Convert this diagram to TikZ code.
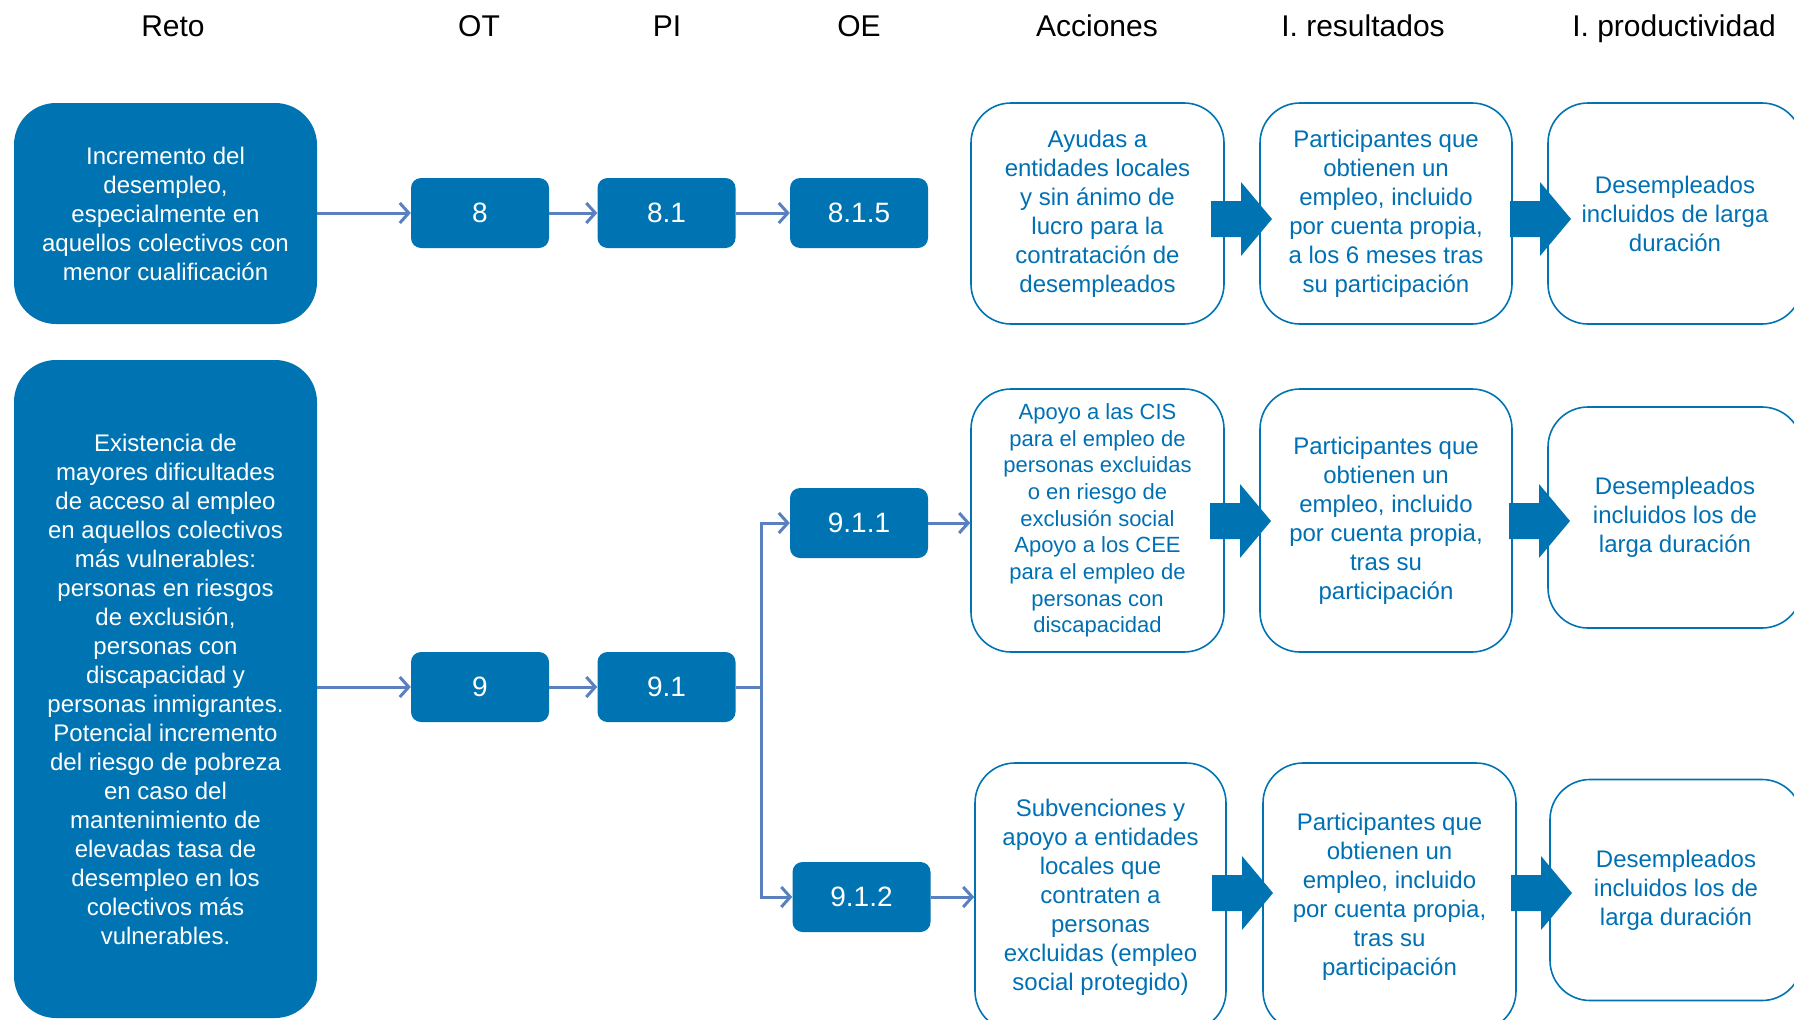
\documentclass[tikz,border=0pt]{standalone}
\usepackage{fontspec}
\setmainfont{Liberation Sans}
\usetikzlibrary{arrows.meta}
\definecolor{dkblue}{RGB}{0,116,178}
\definecolor{txtblue}{RGB}{0,112,180}
\definecolor{connc}{RGB}{90,128,192}
\begin{document}
\begin{tikzpicture}[x=1pt,y=-1pt,
 reto/.style={fill=dkblue, rounded corners=42pt, text=white, align=center, font=\fontsize{24}{29}\selectfont, inner sep=0pt, minimum width=303pt},
 num/.style={fill=dkblue, rounded corners=10pt, text=white, minimum width=138pt, minimum height=70pt, font=\fontsize{28}{32}\selectfont, inner sep=0pt},
 wbox/.style={draw=dkblue, line width=1.6pt, rounded corners=40pt, text=txtblue, align=center, font=\fontsize{24}{29}\selectfont, inner sep=0pt},
 hdr/.style={font=\fontsize{30}{34}\selectfont, text=black, anchor=base},
 link/.style={draw=connc, line width=3pt, -{Straight Barb[length=9pt,width=20pt]}},
 blockarrow/.pic={\fill[dkblue] (0,-18) -- (30,-18) -- (30,-37) -- (61,0) -- (30,37) -- (30,18) -- (0,18) -- cycle;}
]
\useasboundingbox (0,0) rectangle (1794,1020);
\clip (0,0) rectangle (1794,1020);

% headers
\node[hdr] (hReto) at (173,36) {Reto};
\node[hdr] (hOT) at (479,36) {OT};
\node[hdr] (hPI) at (667,36) {PI};
\node[hdr] (hOE) at (859,36) {OE};
\node[hdr] (hAcc) at (1097,36) {Acciones};
\node[hdr] (hRes) at (1363,36) {I. resultados};
\node[hdr] (hProd) at (1674,36) {I. productividad};

% reto boxes
\node[reto, minimum height=221pt] (reto1) at (165.5,213.5) {Incremento del\\desempleo,\\especialmente en\\aquellos colectivos con\\menor cualificación};
\node[reto, minimum height=658pt] (reto2) at (165.5,689) {Existencia de\\mayores dificultades\\de acceso al empleo\\en aquellos colectivos\\más vulnerables:\\personas en riesgos\\de exclusión,\\personas con\\discapacidad y\\personas inmigrantes.\\Potencial incremento\\del riesgo de pobreza\\en caso del\\mantenimiento de\\elevadas tasa de\\desempleo en los\\colectivos más\\vulnerables.};

% number boxes
\node[num] (n8) at (480,213) {8};
\node[num] (n81) at (666.5,213) {8.1};
\node[num] (n815) at (859,213) {8.1.5};
\node[num] (n9) at (480,687) {9};
\node[num] (n91) at (666.5,687) {9.1};
\node[num] (n911) at (859,523) {9.1.1};
\node[num] (n912) at (861.5,897) {9.1.2};

% block arrows (beneath the outlined boxes)
\pic at (1211,219) {blockarrow};
\pic at (1510,219) {blockarrow};
\pic at (1210,521) {blockarrow};
\pic at (1509,521) {blockarrow};
\pic at (1212,893) {blockarrow};
\pic at (1511,893) {blockarrow};

% outlined boxes
\node[wbox, minimum width=253pt, minimum height=221pt] (acc1) at (1097.5,213.5) {Ayudas a\\entidades locales\\y sin ánimo de\\lucro para la\\contratación de\\desempleados};
\node[wbox, minimum width=252pt, minimum height=221pt] (res1) at (1386,213.5) {Participantes que\\obtienen un\\empleo, incluido\\por cuenta propia,\\a los 6 meses tras\\su participación};
\node[wbox, minimum width=254pt, minimum height=221pt] (prod1) at (1675,213.5) {Desempleados\\incluidos de larga\\duración};

\node[wbox, minimum width=253pt, minimum height=263pt, font=\fontsize{22}{26.7}\selectfont] (acc2) at (1097.5,520.5) {Apoyo a las CIS\\para el empleo de\\personas excluidas\\o en riesgo de\\exclusión social\\Apoyo a los CEE\\para el empleo de\\personas con\\discapacidad};
\node[wbox, minimum width=252pt, minimum height=263pt] (res2) at (1386,520.5) {Participantes que\\obtienen un\\empleo, incluido\\por cuenta propia,\\tras su\\participación};
\node[wbox, minimum width=254pt, minimum height=221pt] (prod2) at (1675,517.5) {Desempleados\\incluidos los de\\larga duración};

\node[wbox, minimum width=251pt, minimum height=268pt] (acc3) at (1100.5,897) {Subvenciones y\\apoyo a entidades\\locales que\\contraten a\\personas\\excluidas (empleo\\social protegido)};
\node[wbox, minimum width=253pt, minimum height=268pt] (res3) at (1389.5,897) {Participantes que\\obtienen un\\empleo, incluido\\por cuenta propia,\\tras su\\participación};
\node[wbox, minimum width=252pt, minimum height=221pt] (prod3) at (1676,890) {Desempleados\\incluidos los de\\larga duración};

% connectors
\draw[link] (reto1.east |- n8.west) -- (n8.west);
\draw[link] (n8.east) -- (n81.west);
\draw[link] (n81.east) -- (n815.west);
\draw[link] (reto2.east |- n9.west) -- (n9.west);
\draw[link] (n9.east) -- (n91.west);
\draw[link] (n91.east) -- ++(26,0) |- (n911.west);
\draw[link] (n91.east) -- ++(26,0) |- (n912.west);
\draw[link] (n911.east) -- (n911.east -| acc2.west);
\draw[link] (n912.east) -- (n912.east -| acc3.west);
\end{tikzpicture}
\end{document}
